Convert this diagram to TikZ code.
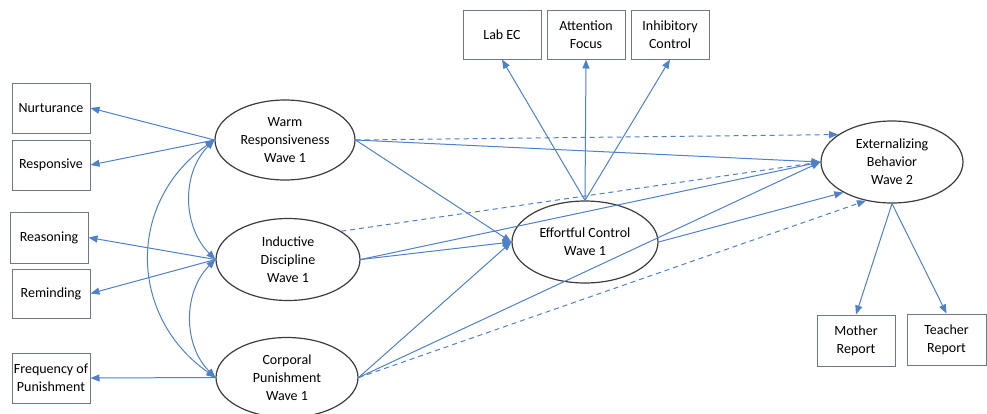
\documentclass[tikz,border=0pt]{standalone}
\usepackage{fontspec}
\setmainfont{Carlito}
\usetikzlibrary{shapes.geometric,arrows.meta}
\definecolor{ablue}{RGB}{79,129,199}
\definecolor{boxgray}{RGB}{110,120,135}
\definecolor{ellgray}{RGB}{60,60,60}
\begin{document}
\begin{tikzpicture}[x=1pt,y=1pt,
 every node/.style={font=\fontsize{14}{18}\selectfont, align=center, inner sep=0pt},
 obs/.style={draw=boxgray, line width=1pt, minimum width=78pt, minimum height=50pt},
 lat/.style={draw=ellgray, line width=1.2pt, ellipse},
 con/.style={draw=ablue, line width=1pt, -{Triangle[length=9pt,width=7pt]}},
 cov/.style={draw=ablue, line width=1pt, {Triangle[length=9pt,width=7pt]}-{Triangle[length=9pt,width=7pt]}},
 dsh/.style={con, dash pattern=on 5pt off 4pt}]
\useasboundingbox (0,0) rectangle (987,-413);
% observed indicators
\node[obs] (nur) at (51,-108) {Nurturance};
\node[obs] (resp) at (51,-165) {Responsive};
\node[obs, minimum height=51pt] (reas) at (49,-237.5) {Reasoning};
\node[obs, minimum height=49pt] (remi) at (51,-293.5) {Reminding};
\node[obs] (freq) at (51,-378) {Frequency of\\Punishment};
\node[obs, minimum height=49pt] (lab) at (502,-34.5) {Lab EC};
\node[obs, minimum height=49pt] (att) at (586,-34.5) {Attention\\Focus};
\node[obs, minimum height=49pt] (inh) at (670,-34.5) {Inhibitory\\Control};
\node[obs, minimum height=51pt] (moth) at (856,-340.5) {Mother\\Report};
\node[obs, minimum height=51pt, minimum width=79pt] (teach) at (946.5,-339.5) {Teacher\\Report};
% latent variables
\node[lat, minimum width=140pt, minimum height=80pt] (warm) at (285,-140) {Warm\\Responsiveness\\Wave 1};
\node[lat, minimum width=144pt, minimum height=82pt] (ind) at (288,-259.5) {Inductive\\Discipline\\Wave 1};
\node[lat, minimum width=142pt, minimum height=80pt] (corp) at (287,-377.5) {Corporal\\Punishment\\Wave 1};
\node[lat, minimum width=146pt, minimum height=82pt] (eff) at (585,-242) {Effortful Control\\Wave 1};
\node[lat, minimum width=142pt, minimum height=82pt] (ext) at (892,-162) {Externalizing\\Behavior\\Wave 2};
% measurement paths
\draw[con] (warm.west) -- (nur.east);
\draw[con] (warm.west) -- (resp.east);
\draw[con] (ind.west) -- (reas.east);
\draw[con] (ind.west) -- (remi.east);
\draw[con] (corp.west) -- (freq.east);
\draw[con] (eff.north) -- (lab.south);
\draw[con] (eff.north) -- (att.south);
\draw[con] (eff.north) -- (inh.south);
\draw[con] (ext.south) -- (moth.north);
\draw[con] (ext.south) -- (teach.north);
% covariances
\draw[cov] (warm.west) to[out=225,in=135] (ind.west);
\draw[cov] (ind.west) to[out=225,in=135] (corp.west);
\draw[cov] (warm.west) to[out=215,in=145,looseness=1.15] (corp.west);
% structural paths
\draw[con] (warm.east) -- (eff.west);
\draw[con] (ind.east) -- (eff.west);
\draw[con] (corp.east) -- (eff.west);
\draw[con] (warm.east) -- (ext.west);
\draw[con] (ind.east) -- (ext.west);
\draw[con] (corp.east) -- (ext.west);
\draw[con] (eff.east) -- (ext.212);
\draw[dsh] (warm.east) -- (ext.153);
\draw[dsh] (ind.28) -- (ext.west);
\draw[dsh] (corp.east) -- (ext.236);
\end{tikzpicture}
\end{document}
